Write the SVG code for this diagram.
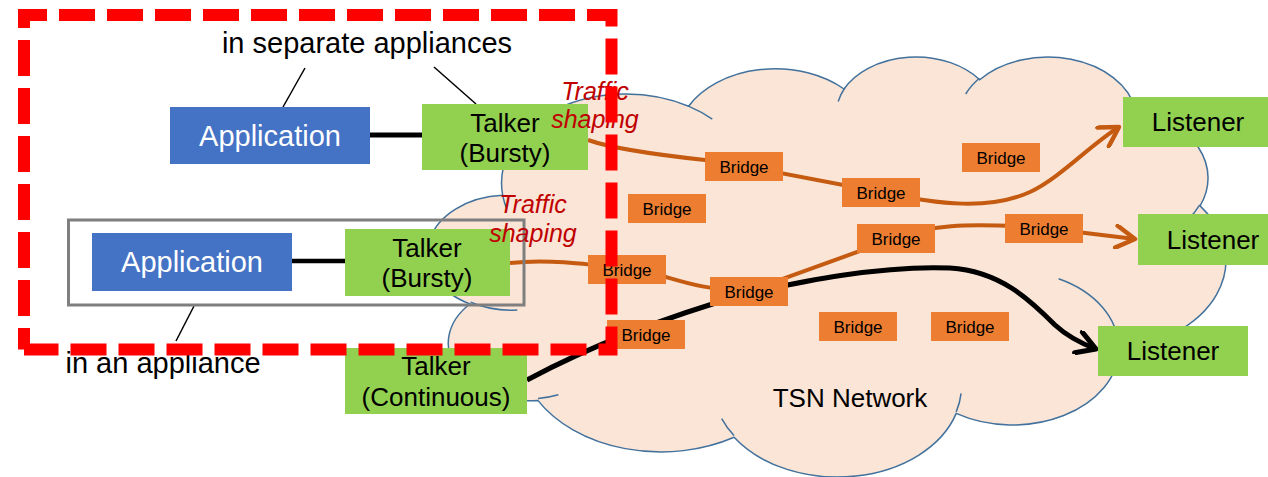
<svg xmlns="http://www.w3.org/2000/svg" width="1268" height="477" viewBox="0 0 1268 477">
<style>
text{font-family:"Liberation Sans",Arial,sans-serif;fill:#000}
.app{fill:#4472C4}
.appt{fill:#fff;font-size:29px;text-anchor:middle}
.grn{fill:#92D050}
.tt{font-size:26px;text-anchor:middle}
.br{fill:#ED7D31}
.brt{font-size:17px;text-anchor:middle}
.ts{fill:#C00000;font-size:25px;font-style:italic;text-anchor:middle}
.lbl{font-size:29px;text-anchor:middle}
.cl{fill:none;stroke:#41719C;stroke-width:1.5}
.or{fill:none;stroke:#C55A11;stroke-width:4;stroke-linejoin:round}
.bk{fill:none;stroke:#000;stroke-width:5;stroke-linejoin:round}
.thin{stroke:#000;stroke-width:1.5}
</style>
<defs>
<marker id="arrO" viewBox="0 0 10 10" refX="8.5" refY="5" markerUnits="userSpaceOnUse" markerWidth="25" markerHeight="25" orient="auto">
<path d="M1,0.6 L8.5,5 L1,9.4" fill="none" stroke="#C55A11" stroke-width="1.8" stroke-linecap="round" stroke-linejoin="round"/>
</marker>
<marker id="arrB" viewBox="0 0 10 10" refX="8.5" refY="5" markerUnits="userSpaceOnUse" markerWidth="25" markerHeight="25" orient="auto">
<path d="M1,0.6 L8.5,5 L1,9.4" fill="none" stroke="#000" stroke-width="2" stroke-linecap="round" stroke-linejoin="round"/>
</marker>
</defs>
<rect width="1268" height="477" fill="#fff"/>

<g id="cloud">
<path d="M502.7,195.3 A124.2,89.3 0 0 1 688.6,106.2 A98.1,70.6 0 0 1 844.0,89.0 A80.3,57.8 0 0 1 979.7,79.7 A89.3,64.1 0 0 1 1135.7,109.8 A98.1,70.7 0 0 1 1200.1,205.9 A124.6,89.6 0 0 1 1118.9,349.2 A106.4,76.5 0 0 1 956.2,413.4 A124.2,89.6 0 0 1 734.1,437.3 A142.0,102.5 0 0 1 537.8,400.4 A80.2,57.5 0 0 1 469.9,304.0 A79.9,57.8 0 0 1 502.7,195.3 Z" fill="#FBE5D6" stroke="#41719C" stroke-width="1.5"/>
<path class="cl" d="M517.3,310.0 A79.9,57.8 0 0 1 470.7,302.3 M558.4,394.8 A80.2,57.5 0 0 1 538.0,398.5 M734.0,435.6 A124.2,89.6 0 0 1 721.7,418.6 M961.1,393.4 A124.2,89.6 0 0 1 956.2,411.9 M1058.6,278.7 A106.4,76.5 0 0 1 1118.4,348.1 M1199.7,204.8 A98.1,70.7 0 0 1 1173.0,230.9 M1135.8,108.3 A89.3,64.1 0 0 1 1137.2,120.6 M965.7,94.0 A89.3,64.1 0 0 1 979.4,78.3 M838.2,101.5 A80.3,57.8 0 0 1 844.8,88.0 M688.5,106.1 A124.2,89.3 0 0 1 712.3,119.2 M506.9,209.1 A124.2,89.3 0 0 1 502.7,195.3"/>
<text x="850" y="407" class="tt">TSN Network</text>
</g>

<g id="connectors">
<line x1="370" y1="135" x2="422" y2="135" stroke="#000" stroke-width="5"/>
<line x1="292" y1="261" x2="345" y2="261" stroke="#000" stroke-width="4.5"/>
<line class="thin" x1="305" y1="68" x2="283" y2="107"/>
<line class="thin" x1="434" y1="67" x2="476" y2="104"/>
<line class="thin" x1="194" y1="306" x2="176" y2="341"/>
<path class="or" d="M588,140 C605,146 640,153 705,160 L744,166 L880,192 C940,205 990,210 1030,192 C1060,178 1090,145 1119,127" marker-end="url(#arrO)"/>
<path class="or" d="M510,263 C545,259 580,263 627,269 L666,277 C690,284 710,290 749,291 L896,238 C930,226 960,222 1044,228 L1135,239" marker-end="url(#arrO)"/>
<path class="bk" d="M527,380 Q620,330 749,293 C800,282 880,265 950,268 C1000,271 1030,300 1055,325 C1068,337 1080,343 1096,349" marker-end="url(#arrB)"/>
</g>

<g id="appliance-box"><rect x="68.5" y="220" width="455.5" height="85" fill="none" stroke="#7F7F7F" stroke-width="3"/></g>

<g id="app1"><rect class="app" x="170" y="107" width="200" height="57"/><text class="appt" x="270" y="146">Application</text></g>
<g id="talker1"><rect class="grn" x="422" y="104" width="166" height="66"/><text class="tt" x="505" y="132">Talker</text><text class="tt" x="505" y="162">(Bursty)</text></g>
<g id="app2"><rect class="app" x="92" y="233" width="200" height="58"/><text class="appt" x="192" y="272">Application</text></g>
<g id="talker2"><rect class="grn" x="345" y="229" width="165" height="67"/><text class="tt" x="427" y="257">Talker</text><text class="tt" x="427" y="287">(Bursty)</text></g>
<g id="talker3"><rect class="grn" x="345" y="348" width="182" height="66"/><text class="tt" x="436" y="375">Talker</text><text class="tt" x="436" y="406">(Continuous)</text></g>

<g id="listener1"><rect class="grn" x="1123" y="97" width="150" height="50"/><text class="tt" x="1198" y="131">Listener</text></g>
<g id="listener2"><rect class="grn" x="1138" y="214" width="150" height="51"/><text class="tt" x="1213" y="249">Listener</text></g>
<g id="listener3"><rect class="grn" x="1098" y="326" width="150" height="50"/><text class="tt" x="1173" y="360">Listener</text></g>

<g id="bridge1"><rect class="br" x="705" y="152" width="78" height="29"/><text class="brt" x="744" y="172.5">Bridge</text></g>
<g id="bridge2"><rect class="br" x="842" y="178" width="78" height="29"/><text class="brt" x="881" y="198.5">Bridge</text></g>
<g id="bridge3"><rect class="br" x="962" y="143" width="78" height="29"/><text class="brt" x="1001" y="163.5">Bridge</text></g>
<g id="bridge4"><rect class="br" x="628" y="194" width="78" height="29"/><text class="brt" x="667" y="214.5">Bridge</text></g>
<g id="bridge5"><rect class="br" x="1005" y="214" width="78" height="29"/><text class="brt" x="1044" y="234.5">Bridge</text></g>
<g id="bridge6"><rect class="br" x="857" y="224" width="78" height="29"/><text class="brt" x="896" y="244.5">Bridge</text></g>
<g id="bridge7"><rect class="br" x="710" y="277" width="78" height="29"/><text class="brt" x="749" y="297.5">Bridge</text></g>
<g id="bridge8"><rect class="br" x="819" y="312" width="78" height="29"/><text class="brt" x="858" y="332.5">Bridge</text></g>
<g id="bridge9"><rect class="br" x="931" y="312" width="78" height="29"/><text class="brt" x="970" y="332.5">Bridge</text></g>
<g id="bridge10"><rect class="br" x="588" y="255" width="78" height="29"/><text class="brt" x="627" y="275.5">Bridge</text></g>
<g id="bridge11"><rect class="br" x="607" y="320" width="78" height="29"/><text class="brt" x="646" y="340.5">Bridge</text></g>

<g id="labels">
<text class="lbl" x="367" y="53">in separate appliances</text>
<text class="lbl" x="163" y="373">in an appliance</text>
<text class="ts" x="595" y="100">Traffic</text>
<text class="ts" x="595" y="128">shaping</text>
<text class="ts" x="533" y="213">Traffic</text>
<text class="ts" x="533" y="242">shaping</text>
</g>

<g id="separate-appliances-box">
<path d="M24,349.5 V15 H611.5 V349.5 H24" fill="none" stroke="#FF0000" stroke-width="12" stroke-dasharray="36 12" stroke-dashoffset="14.5"/>
</g>
</svg>
